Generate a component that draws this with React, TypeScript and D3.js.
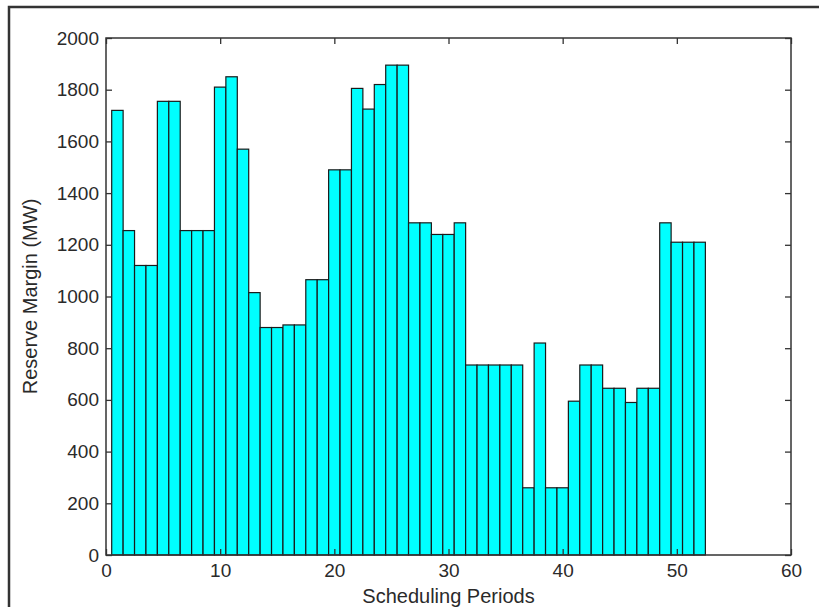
import React, { useEffect, useRef } from 'react';
import * as d3 from 'd3';

// Reserve margin (MW) for each scheduling period 1..52
const periods = d3.range(1, 53);
const reserveMargin = [
  1720, 1255, 1120, 1120, 1755, 1755, 1255, 1255, 1255, 1810,
  1850, 1570, 1015, 880, 880, 890, 890, 1065, 1065, 1490,
  1490, 1805, 1725, 1820, 1895, 1895, 1285, 1285, 1240, 1240,
  1285, 735, 735, 735, 735, 735, 260, 820, 260, 260,
  595, 735, 735, 645, 645, 590, 645, 645, 1285, 1210,
  1210, 1210,
];
const xTicks = [0, 10, 20, 30, 40, 50, 60];
const yTicks = [0, 200, 400, 600, 800, 1000, 1200, 1400, 1600, 1800, 2000];

function App() {
  const chartRef = useRef<HTMLDivElement>(null);

  useEffect(() => {
    document.body.style.margin = '0';

    const W = 819;
    const H = 607;
    const margin = { top: 38, right: 28, bottom: 52, left: 106 };
    const width = W - margin.left - margin.right;
    const height = H - margin.top - margin.bottom;

    d3.select(chartRef.current).select('svg').remove();

    const root = d3
      .select(chartRef.current)
      .append('svg')
      .attr('width', W)
      .attr('height', H)
      .style('display', 'block')
      .style('font-family', '"Liberation Sans", Arial, sans-serif');

    root.append('rect').attr('width', W).attr('height', H).attr('fill', '#fff');

    // outer figure frame (cropped on the right and bottom)
    root
      .append('rect')
      .attr('x', 9)
      .attr('y', 7)
      .attr('width', W + 20)
      .attr('height', H + 20)
      .attr('fill', 'none')
      .attr('stroke', '#333')
      .attr('stroke-width', 2.5);

    const svg = root.append('g').attr('transform', `translate(${margin.left},${margin.top})`);

    const x = d3.scaleLinear().domain([0, 60]).range([0, width]);
    const y = d3.scaleLinear().domain([0, 2000]).range([height, 0]);

    const data = periods.map((p, i) => ({ p, v: reserveMargin[i] }));

    // bars
    svg
      .selectAll('rect.bar')
      .data(data)
      .enter()
      .append('rect')
      .attr('class', 'bar')
      .attr('x', (d) => x(d.p - 0.5))
      .attr('width', (d) => x(d.p + 0.5) - x(d.p - 0.5))
      .attr('y', (d) => y(d.v))
      .attr('height', (d) => y(0) - y(d.v))
      .attr('fill', '#00ffff')
      .attr('stroke', '#1a1a1a')
      .attr('stroke-width', 1.2);

    const styleAxis = (g: d3.Selection<SVGGElement, unknown, null, undefined>) => {
      g.select('.domain').remove();
      g.selectAll('line').attr('stroke', '#333').attr('stroke-width', 1.3);
      g.selectAll('text').attr('fill', '#2a2a2a').style('font-size', '19px');
    };

    const fmt = d3.format('d');

    // bottom / left axes with inward ticks
    svg
      .append('g')
      .attr('transform', `translate(0,${height})`)
      .call(d3.axisBottom(x).tickValues(xTicks).tickFormat(fmt).tickSizeInner(-6).tickSizeOuter(0).tickPadding(9))
      .call(styleAxis);

    svg
      .append('g')
      .call(d3.axisLeft(y).tickValues(yTicks).tickFormat(fmt).tickSizeInner(-6).tickSizeOuter(0).tickPadding(7))
      .call(styleAxis);

    // top / right ticks, no labels
    svg
      .append('g')
      .call(d3.axisTop(x).tickValues(xTicks).tickSizeInner(-6).tickSizeOuter(0).tickFormat(() => ''))
      .call(styleAxis);

    svg
      .append('g')
      .attr('transform', `translate(${width},0)`)
      .call(d3.axisRight(y).tickValues(yTicks).tickSizeInner(-6).tickSizeOuter(0).tickFormat(() => ''))
      .call(styleAxis);

    // axes box
    svg
      .append('rect')
      .attr('width', width)
      .attr('height', height)
      .attr('fill', 'none')
      .attr('stroke', '#333')
      .attr('stroke-width', 1.5);

    // axis titles
    svg
      .append('text')
      .attr('x', width / 2)
      .attr('y', height + 48)
      .attr('text-anchor', 'middle')
      .attr('fill', '#2a2a2a')
      .style('font-size', '20px')
      .text('Scheduling Periods');

    svg
      .append('text')
      .attr('transform', `translate(${37 - margin.left},${height / 2}) rotate(-90)`)
      .attr('text-anchor', 'middle')
      .attr('fill', '#2a2a2a')
      .style('font-size', '20px')
      .text('Reserve Margin (MW)');
  }, []);

  return <div ref={chartRef}></div>;
}

export default App;
